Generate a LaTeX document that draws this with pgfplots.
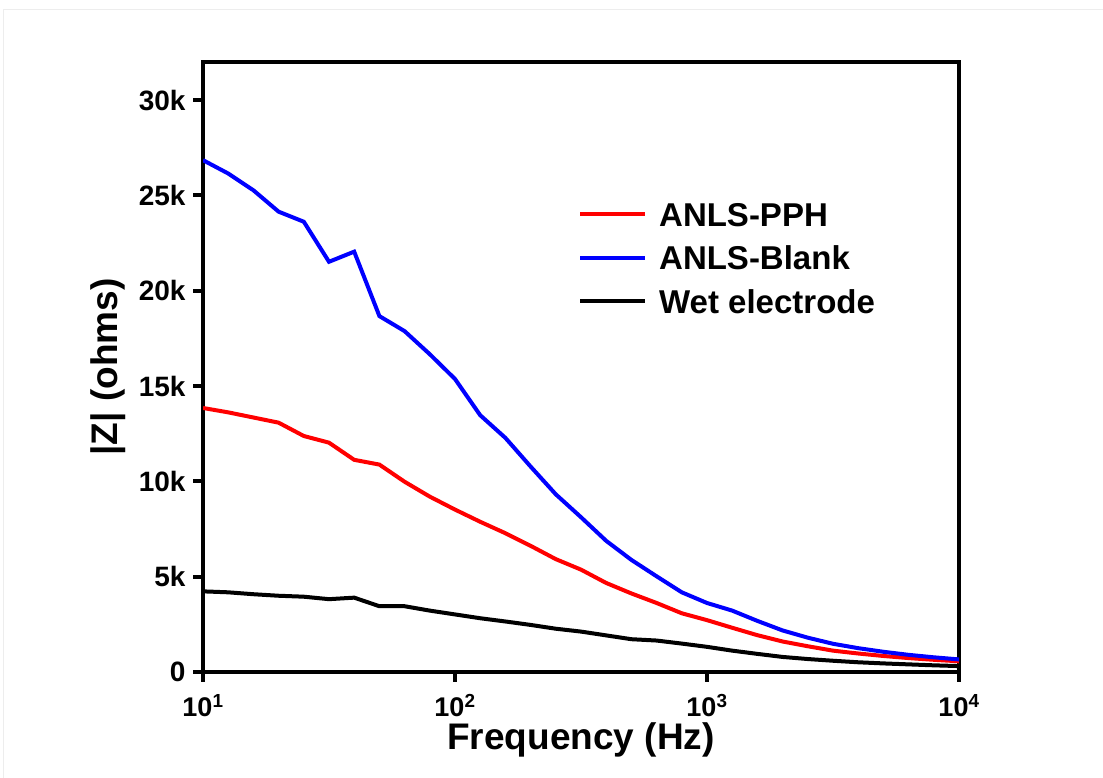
\documentclass[border=0pt]{standalone}
\usepackage{fontspec}
\setmainfont{Liberation Sans}
\usepackage{pgfplots}
\pgfplotsset{compat=1.18}
\begin{document}
\begin{tikzpicture}
\useasboundingbox (0pt,0pt) rectangle (1103pt,778pt);
\draw[black!7, line width=1pt] (3pt,0pt) -- (3pt,768pt) -- (1103pt,768pt);
\begin{axis}[
  at={(203pt,106pt)}, anchor=south west,
  width=756pt, height=610pt, scale only axis,
  xmode=log, xmin=10, xmax=10000, ymin=0, ymax=32,
  xtick={10,100,1000,10000},
  xticklabels={10\textsuperscript{1},10\textsuperscript{2},10\textsuperscript{3},10\textsuperscript{4}},
  xminorticks=false,
  ytick={0,5,10,15,20,25,30},
  yticklabels={0,5k,10k,15k,20k,25k,30k},
  tick pos=left, tick align=outside,
  major tick length=10pt,
  every tick/.style={black, line width=4pt},
  axis line style={line width=4.5pt},
  ticklabel style={font=\fontsize{28}{30}\selectfont\bfseries},
  xticklabel style={inner sep=0pt, yshift=-12pt, font=\fontsize{27}{30}\selectfont\bfseries},
  yticklabel style={xshift=-4pt},
  xlabel={Frequency (Hz)}, ylabel={|Z| (ohms)},
  label style={font=\fontsize{37}{40}\selectfont\bfseries},
  xlabel style={at={(axis description cs:0.5,-0.1265)}, anchor=base, inner sep=0pt},
  ylabel style={at={(axis description cs:-0.126,0.5)}, anchor=center},
  legend style={draw=none, fill=none, at={(0.496,0.7705)}, anchor=north west,
    inner sep=0pt, row sep=19.5pt, column sep=0pt,
    nodes={inner sep=0pt, text height=24pt, text depth=0pt},
    font=\fontsize{33}{36}\selectfont\bfseries},
  legend cell align=left,
  legend image code/.code={\draw[#1, line width=4pt] (0pt,0pt) -- (65pt,0pt); \path (77pt,0pt);},
]
\addplot[red, line width=4pt] coordinates {
(10.00,13.85) (12.59,13.62) (15.85,13.35) (19.95,13.08) (25.12,12.38) (31.62,12.03)
(39.81,11.13) (50.12,10.88) (63.10,9.98) (79.43,9.20) (100.0,8.52) (125.9,7.88)
(158.5,7.28) (199.5,6.62) (251.2,5.92) (316.2,5.37) (398.1,4.67) (501.2,4.12)
(631.0,3.62) (794.3,3.08) (1000,2.72) (1259,2.32) (1585,1.93) (1995,1.60)
(2512,1.35) (3162,1.12) (3981,0.97) (5012,0.84) (6310,0.73) (7943,0.64) (10000,0.56)
};
\addlegendentry{ANLS-PPH}
\addplot[blue, line width=4pt] coordinates {
(10.00,26.85) (12.59,26.15) (15.85,25.27) (19.95,24.15) (25.12,23.62) (31.62,21.52)
(39.81,22.05) (50.12,18.67) (63.10,17.88) (79.43,16.67) (100.0,15.37) (125.9,13.47)
(158.5,12.28) (199.5,10.78) (251.2,9.32) (316.2,8.12) (398.1,6.88) (501.2,5.88)
(631.0,5.02) (794.3,4.18) (1000,3.62) (1259,3.22) (1585,2.68) (1995,2.18)
(2512,1.80) (3162,1.48) (3981,1.25) (5012,1.06) (6310,0.90) (7943,0.77) (10000,0.66)
};
\addlegendentry{ANLS-Blank}
\addplot[black, line width=4pt] coordinates {
(10.00,4.23) (12.59,4.18) (15.85,4.08) (19.95,4.00) (25.12,3.95) (31.62,3.82)
(39.81,3.90) (50.12,3.45) (63.10,3.45) (79.43,3.22) (100.0,3.02) (125.9,2.82)
(158.5,2.65) (199.5,2.47) (251.2,2.27) (316.2,2.12) (398.1,1.92) (501.2,1.72)
(631.0,1.65) (794.3,1.49) (1000,1.32) (1259,1.12) (1585,0.95) (1995,0.79)
(2512,0.68) (3162,0.59) (3981,0.51) (5012,0.45) (6310,0.40) (7943,0.35) (10000,0.31)
};
\addlegendentry{Wet electrode}
\end{axis}
\end{tikzpicture}
\end{document}
